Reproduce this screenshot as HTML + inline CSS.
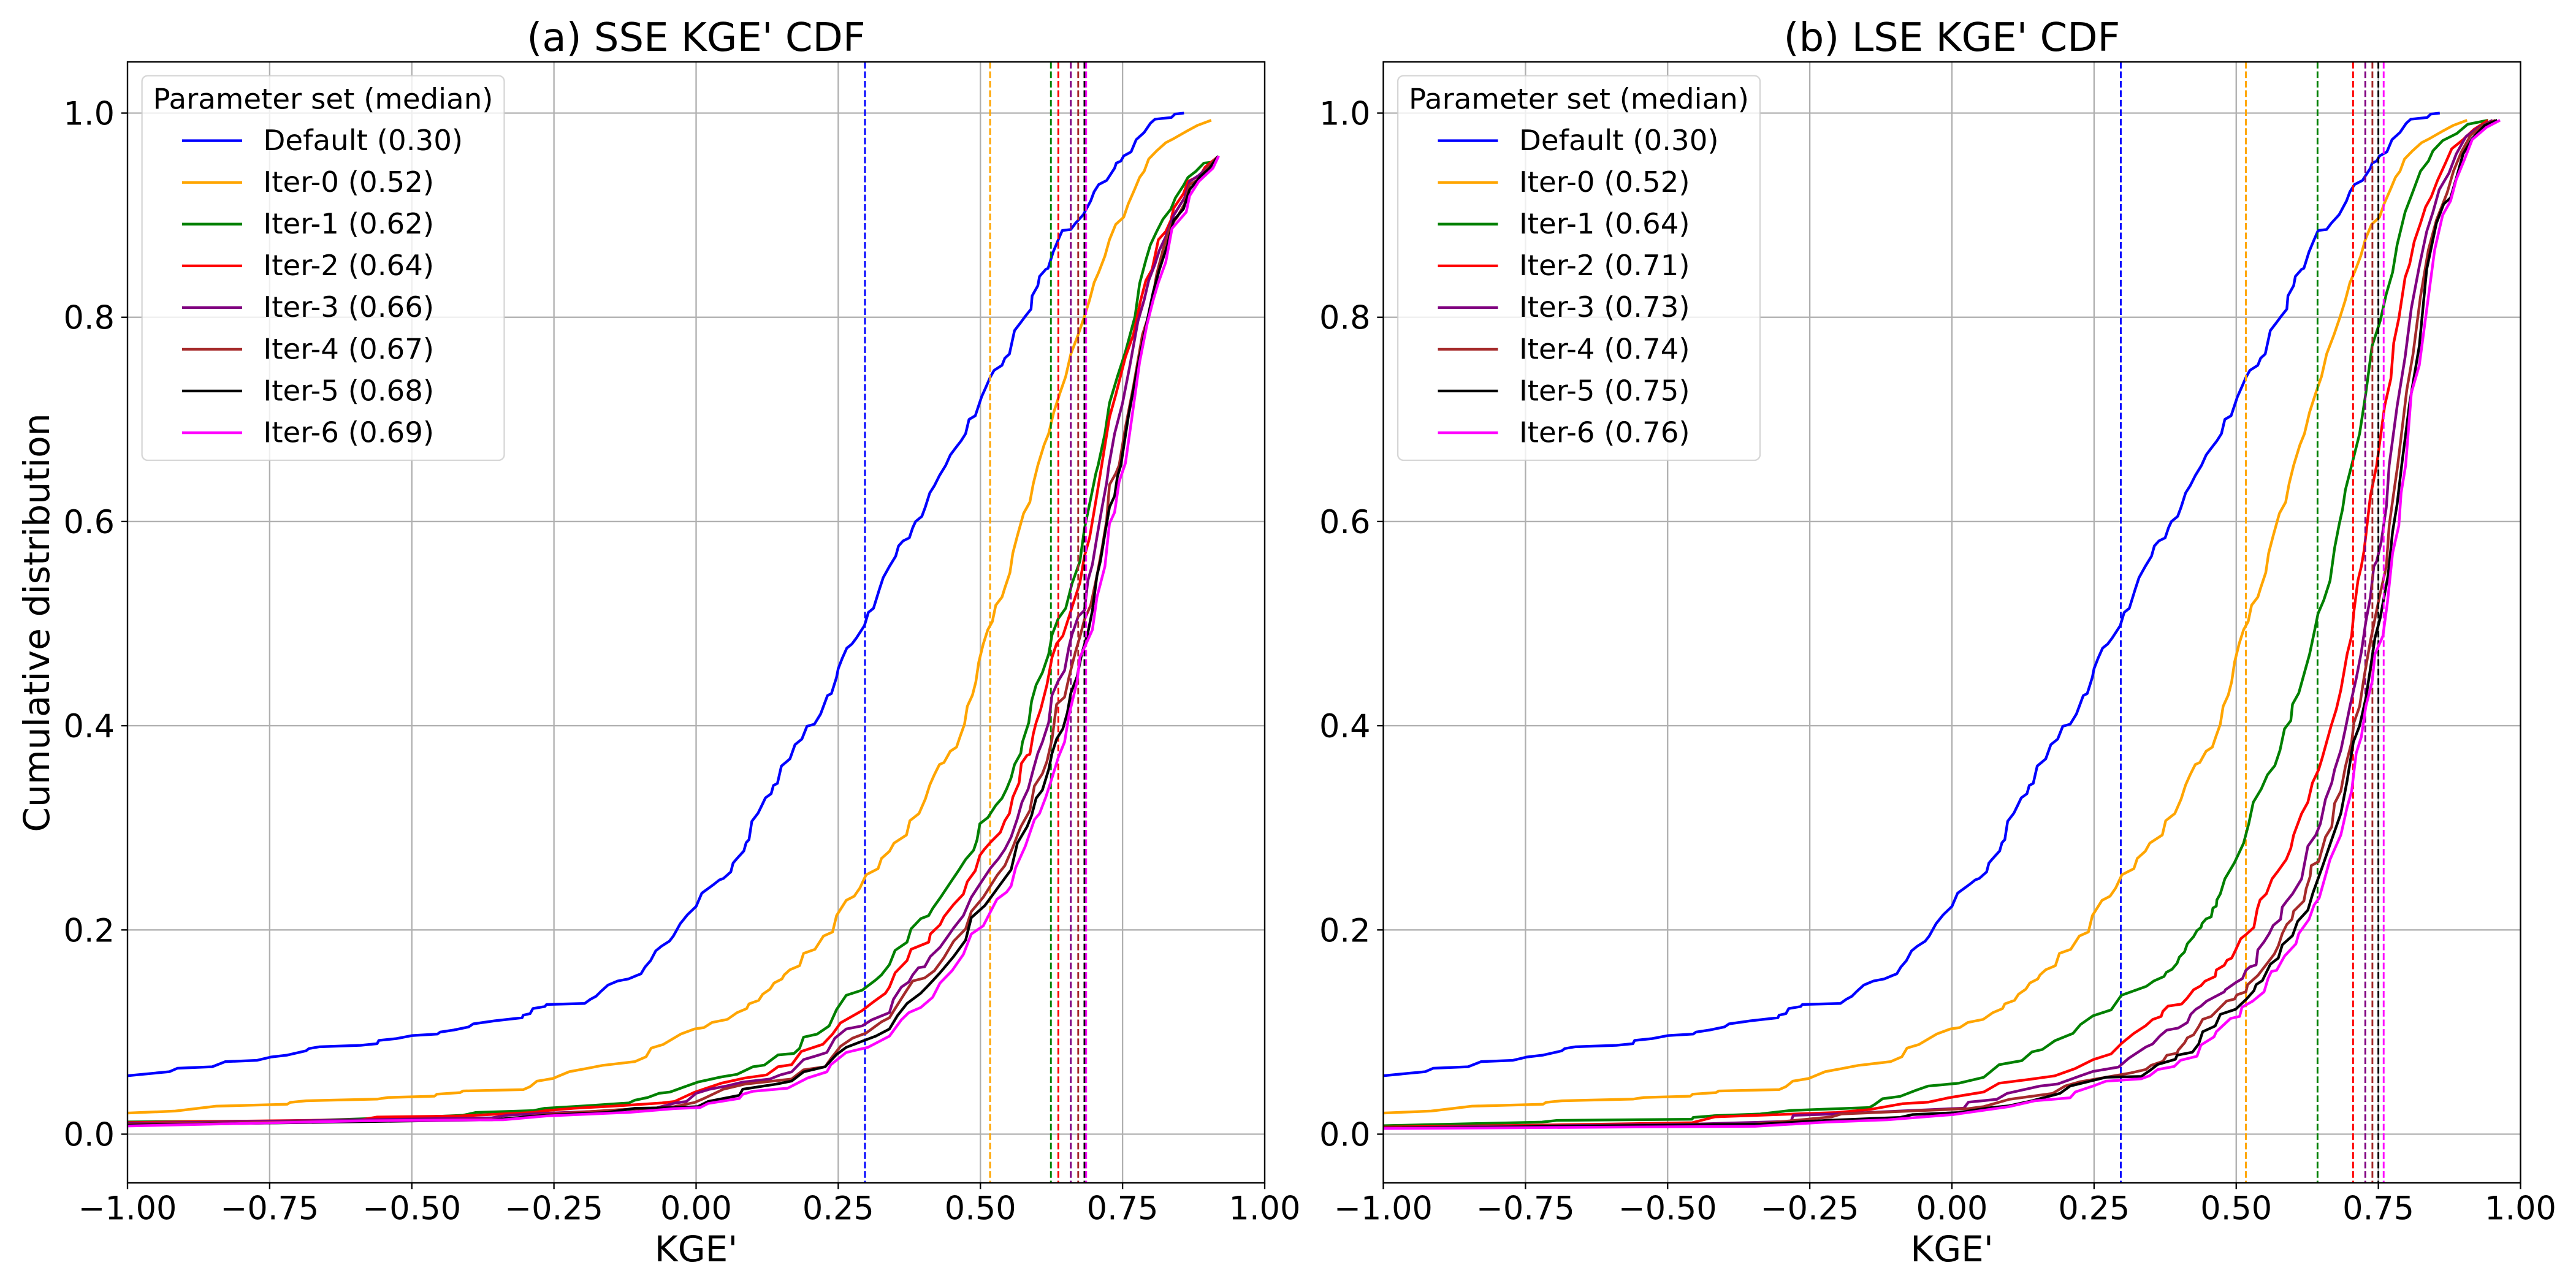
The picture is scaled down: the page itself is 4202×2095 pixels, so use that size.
<!DOCTYPE html>
<html lang="en">
<head>
<meta charset="utf-8">
<title>SSE and LSE KGE' CDF</title>
<style>
html,body{margin:0;padding:0;background:#fff;}
svg{display:block;}
text{font-family:"DejaVu Sans",sans-serif;fill:#000;}
</style>
</head>
<body>
<svg id="figure" xmlns="http://www.w3.org/2000/svg" width="4202" height="2095" viewBox="0 0 4202 2095"></svg>
<script>
// ---- Tick data ----
const xTickValues = [-1, -0.75, -0.5, -0.25, 0, 0.25, 0.5, 0.75, 1];
const xTickLabels = ['\u22121.00', '\u22120.75', '\u22120.50', '\u22120.25', '0.00', '0.25', '0.50', '0.75', '1.00'];
const yTickValues = [0, 0.2, 0.4, 0.6, 0.8, 1];
const yTickLabels = ['0.0', '0.2', '0.4', '0.6', '0.8', '1.0'];
const seriesNames = ['Default', 'Iter-0', 'Iter-1', 'Iter-2', 'Iter-3', 'Iter-4', 'Iter-5', 'Iter-6'];
const seriesColors = ['#0000ff', '#ffa500', '#008000', '#ff0000', '#800080', '#a52a2a', '#000000', '#ff00ff'];

// ---- Median KGE' per parameter set ----
const sseMedians = [0.297, 0.517, 0.624, 0.637, 0.659, 0.672, 0.683, 0.686];
const lseMedians = [0.297, 0.517, 0.643, 0.7055, 0.727, 0.7395, 0.75, 0.7593];

// ---- Default and Iter-0 (shared by both panels) ----
const defaultKge = [-1,-.926,-.912,-.851,-.828,-.772,-.748,-.719,-.686,-.681,-.662,-.59,-.561,-.558,-.527,-.5,-.455,-.45,-.426,-.4,-.392,-.354,-.306,-.304,-.292,-.287,-.266,-.263,-.196,-.186,-.176,-.167,-.155,-.138,-.119,-.104,-.097,-.09,-.08,-.071,-.061,-.047,-.04,-.028,-.015,0,.01,.032,.041,.048,.061,.065,.071,.084,.088,.093,.098,.109,.116,.122,.132,.136,.143,.15,.165,.174,.186,.195,.208,.219,.231,.238,.247,.25,.257,.265,.274,.282,.296,.303,.312,.322,.329,.34,.351,.356,.364,.375,.381,.386,.397,.403,.411,.419,.428,.439,.447,.455,.466,.474,.48,.491,.502,.51,.517,.524,.538,.543,.551,.56,.571,.579,.589,.591,.601,.604,.615,.619,.628,.637,.644,.659,.667,.681,.694,.7,.708,.722,.736,.739,.747,.752,.765,.774,.788,.799,.807,.836,.842,.858];
const defaultCdf = [.0572,.0612,.0646,.066,.071,.0723,.0755,.0774,.0816,.0838,.0856,.087,.0886,.0918,.0936,.0965,.098,.1,.102,.105,.108,.111,.114,.1165,.118,.123,.125,.127,.128,.132,.135,.14,.146,.15,.152,.1555,.157,.1635,.17,.1795,.184,.189,.194,.206,.215,.223,.236,.245,.249,.2504,.2568,.2654,.2694,.2774,.2854,.2884,.3064,.3144,.3224,.3294,.3334,.3415,.3435,.3605,.3675,.3815,.3869,.3995,.4015,.4115,.4295,.4315,.4475,.456,.466,.476,.48,.486,.498,.511,.515,.533,.545,.556,.566,.576,.581,.584,.594,.6,.605,.614,.628,.635,.645,.655,.665,.671,.679,.686,.7,.7036,.722,.732,.741,.748,.753,.76,.764,.787,.795,.801,.808,.821,.831,.84,.847,.848,.864,.876,.885,.886,.892,.9005,.914,.923,.93,.934,.946,.951,.953,.958,.962,.974,.981,.99,.994,.9957,.999,1];
const iter0Kge = [-1,-.916,-.844,-.719,-.714,-.686,-.561,-.542,-.46,-.456,-.415,-.41,-.304,-.292,-.28,-.252,-.223,-.19,-.165,-.108,-.088,-.079,-.058,-.038,-.027,-.003,.014,.028,.055,.072,.089,.093,.11,.117,.13,.137,.151,.155,.165,.182,.189,.209,.224,.24,.247,.264,.278,.288,.299,.32,.326,.34,.348,.37,.376,.392,.403,.411,.419,.428,.436,.447,.458,.464,.472,.477,.486,.492,.497,.505,.513,.521,.527,.538,.543,.552,.557,.565,.576,.587,.593,.601,.612,.62,.629,.64,.65,.659,.672,.683,.692,.7,.708,.719,.727,.738,.752,.76,.771,.78,.788,.796,.81,.826,.84,.862,.882,.906];
const iter0Cdf = [.0207,.0226,.0274,.0293,.0311,.0327,.0343,.0359,.0372,.0391,.0407,.0423,.0436,.0465,.0519,.0545,.0612,.0646,.0673,.071,.0758,.0843,.0878,.0944,.098,.103,.1044,.1094,.1124,.119,.123,.1276,.131,.137,.142,.148,.152,.156,.161,.165,.177,.181,.194,.198,.214,.229,.233,.241,.254,.26,.27,.277,.285,.293,.307,.314,.328,.342,.352,.362,.364,.375,.379,.389,.4014,.419,.43,.443,.462,.48,.494,.502,.518,.526,.535,.55,.569,.586,.608,.619,.637,.655,.675,.686,.707,.726,.742,.764,.783,.801,.817,.834,.844,.86,.876,.891,.898,.911,.925,.937,.943,.955,.963,.971,.975,.982,.988,.993];

// ---- SSE panel ----
const sseIter1Kge = [-1,-.7,-.45,-.41,-.387,-.286,-.267,-.19,-.118,-.108,-.085,-.065,-.046,-.022,.003,.044,.072,.1,.12,.144,.172,.182,.189,.213,.234,.247,.264,.292,.316,.326,.34,.35,.371,.378,.395,.409,.416,.43,.45,.463,.474,.488,.494,.499,.513,.527,.538,.546,.554,.56,.571,.574,.585,.59,.598,.609,.62,.626,.637,.65,.661,.675,.683,.692,.703,.707,.719,.727,.741,.755,.772,.78,.791,.799,.81,.821,.835,.843,.857,.865,.879,.893,.909,.919];
const sseIter1Cdf = [.012,.013,.0175,.0185,.0213,.0231,.0253,.0279,.0306,.0332,.0359,.04,.0412,.046,.051,.056,.0586,.066,.0676,.0776,.079,.084,.095,.098,.106,.122,.136,.141,.151,.156,.166,.18,.188,.201,.211,.214,.221,.232,.2487,.2594,.269,.278,.288,.304,.31,.322,.329,.338,.349,.362,.373,.384,.403,.424,.44,.452,.47,.489,.505,.515,.539,.561,.593,.617,.647,.655,.686,.716,.742,.766,.801,.833,.856,.871,.884,.896,.906,.917,.929,.937,.943,.951,.952,.958];
const sseIter2Kge = [-1,-.589,-.561,-.415,-.286,-.263,-.215,-.146,-.06,-.038,-.003,.045,.086,.124,.144,.168,.185,.223,.24,.254,.292,.313,.333,.34,.35,.371,.378,.409,.412,.429,.436,.453,.47,.477,.491,.499,.507,.518,.535,.543,.551,.557,.568,.572,.582,.587,.593,.598,.606,.617,.626,.634,.645,.656,.664,.675,.683,.692,.703,.711,.727,.738,.755,.769,.782,.791,.802,.813,.826,.835,.84,.857,.865,.887,.895,.917];
const sseIter2Cdf = [.0114,.0141,.0168,.0178,.0213,.0231,.0253,.0274,.0306,.032,.041,.05,.055,.058,.066,.068,.081,.088,.098,.109,.121,.13,.138,.144,.158,.17,.181,.188,.196,.205,.213,.225,.235,.2473,.258,.273,.279,.286,.2955,.307,.314,.33,.344,.363,.371,.372,.392,.403,.416,.44,.467,.4804,.488,.507,.521,.54,.566,.584,.62,.647,.702,.724,.761,.783,.817,.836,.847,.876,.884,.895,.907,.921,.933,.939,.947,.957];
const sseIter3Kge = [-1,-.359,-.33,-.263,-.165,-.069,-.036,-.017,0,.024,.052,.082,.13,.148,.168,.189,.213,.23,.244,.264,.292,.309,.34,.347,.361,.374,.381,.391,.402,.412,.429,.443,.453,.47,.484,.502,.518,.532,.543,.554,.565,.573,.584,.593,.601,.609,.62,.626,.637,.648,.656,.661,.672,.683,.689,.697,.705,.714,.722,.726,.736,.75,.763,.777,.788,.796,.807,.815,.826,.84,.859,.868,.884,.898,.917];
const sseIter3Cdf = [.0106,.016,.0186,.0205,.0226,.0258,.0306,.032,.04,.044,.047,.051,.054,.058,.061,.073,.077,.08,.094,.103,.106,.112,.119,.132,.144,.149,.156,.163,.164,.174,.183,.194,.202,.214,.232,.2473,.2607,.27,.279,.291,.309,.325,.338,.357,.373,.384,.403,.43,.444,.454,.478,.489,.507,.513,.542,.558,.585,.614,.638,.655,.686,.716,.753,.796,.817,.836,.852,.866,.879,.9,.917,.933,.939,.946,.957];
const sseIter4Kge = [-1,-.334,-.263,-.137,-.055,-.038,-.003,.014,.048,.086,.168,.189,.227,.237,.254,.275,.299,.326,.34,.35,.367,.381,.402,.419,.436,.453,.474,.484,.505,.53,.543,.557,.571,.587,.595,.609,.617,.626,.634,.648,.656,.667,.675,.683,.694,.705,.714,.722,.727,.738,.744,.755,.769,.785,.799,.81,.821,.835,.846,.859,.868,.884,.903,.917];
const sseIter4Cdf = [.0098,.0146,.0194,.0239,.026,.027,.031,.035,.044,.049,.054,.063,.066,.074,.086,.094,.099,.11,.114,.123,.138,.15,.153,.16,.173,.189,.201,.218,.232,.254,.263,.281,.301,.317,.341,.353,.365,.387,.421,.428,.448,.472,.487,.504,.518,.547,.574,.601,.636,.647,.655,.692,.732,.783,.807,.842,.866,.89,.898,.911,.93,.935,.949,.957];
const sseIter5Kge = [-1,-.359,-.263,-.156,-.108,-.038,.003,.021,.076,.082,.141,.168,.189,.227,.247,.264,.292,.316,.34,.354,.371,.395,.409,.429,.453,.474,.484,.508,.525,.535,.554,.565,.582,.59,.598,.609,.62,.626,.634,.645,.653,.659,.67,.678,.689,.697,.705,.711,.719,.727,.736,.741,.747,.76,.777,.793,.804,.815,.829,.84,.857,.868,.887,.903,.917];
const sseIter5Cdf = [.0088,.0141,.0186,.0213,.0253,.026,.027,.032,.038,.044,.049,.052,.061,.066,.078,.085,.091,.096,.103,.116,.128,.138,.146,.158,.174,.19,.212,.224,.237,.2446,.259,.285,.301,.312,.329,.337,.357,.373,.387,.397,.413,.432,.448,.47,.491,.513,.547,.561,.588,.614,.625,.644,.655,.702,.753,.796,.825,.847,.871,.895,.906,.925,.938,.946,.957];
const sseIter6Kge = [-1,-.589,-.339,-.263,-.119,-.038,.007,.021,.076,.082,.1,.161,.196,.23,.237,.264,.302,.34,.361,.374,.395,.416,.429,.45,.47,.484,.505,.529,.546,.554,.562,.579,.595,.604,.615,.626,.637,.648,.656,.67,.675,.686,.697,.705,.719,.727,.736,.744,.755,.766,.78,.793,.804,.813,.826,.837,.851,.862,.868,.884,.909,.919];
const sseIter6Cdf = [.008,.013,.0141,.0178,.0213,.025,.026,.03,.035,.039,.042,.045,.055,.061,.068,.08,.085,.096,.112,.119,.124,.134,.148,.16,.176,.196,.204,.23,.237,.243,.261,.282,.308,.314,.33,.349,.369,.384,.411,.443,.467,.4804,.494,.526,.556,.598,.609,.639,.657,.7,.756,.793,.817,.834,.854,.887,.896,.903,.919,.933,.946,.958];

// ---- LSE panel ----
const lseIter1Kge = [-1,-.721,-.694,-.457,-.455,-.417,-.337,-.283,-.145,-.136,-.122,-.091,-.064,-.042,.012,.056,.083,.123,.141,.159,.181,.213,.226,.248,.28,.298,.342,.355,.373,.377,.387,.396,.4,.409,.414,.425,.431,.438,.44,.447,.456,.459,.465,.466,.472,.48,.497,.513,.522,.53,.544,.555,.568,.577,.585,.596,.599,.61,.618,.629,.637,.644,.654,.665,.673,.681,.687,.692,.703,.717,.728,.739,.753,.764,.775,.783,.797,.808,.824,.838,.846,.863,.888,.907,.943];
const lseIter1Cdf = [.0083,.0118,.0135,.0146,.0164,.0181,.0198,.0232,.0261,.029,.0347,.037,.0428,.0471,.0499,.0557,.068,.072,.0806,.0829,.0915,.0987,.1073,.1159,.1217,.136,.1448,.15,.1544,.1584,.1614,.1674,.1734,.1784,.1864,.1934,.1994,.2024,.2064,.2108,.2128,.2214,.2234,.2294,.2353,.25,.266,.285,.304,.325,.338,.352,.361,.376,.397,.405,.421,.432,.448,.47,.491,.51,.523,.542,.574,.597,.612,.631,.655,.686,.726,.772,.796,.823,.844,.871,.903,.919,.943,.953,.963,.973,.98,.989,.993];
const lseIter2Kge = [-1,-.685,-.457,-.417,-.203,-.145,-.087,-.042,-.006,.056,.083,.137,.181,.217,.248,.28,.298,.32,.341,.353,.368,.371,.38,.404,.414,.425,.438,.445,.463,.465,.479,.484,.492,.499,.508,.517,.531,.537,.542,.553,.563,.574,.588,.596,.601,.615,.626,.634,.645,.651,.659,.667,.676,.684,.69,.695,.703,.707,.714,.72,.725,.731,.736,.747,.761,.772,.777,.786,.797,.805,.813,.824,.833,.843,.854,.868,.879,.899,.918,.943];
const lseIter2Cdf = [.0069,.0092,.0112,.0169,.0212,.0241,.0298,.0313,.0356,.0413,.0499,.0537,.0571,.0643,.0729,.0786,.0887,.0987,.1063,.1123,.1153,.1203,.1254,.1274,.1334,.1414,.1454,.1498,.1544,.1608,.1654,.1704,.1724,.1804,.1914,.1954,.2024,.2204,.2294,.2354,.25,.258,.269,.28,.293,.314,.325,.344,.357,.368,.384,.4,.416,.435,.454,.47,.488,.512,.542,.556,.572,.601,.625,.655,.713,.74,.775,.799,.839,.852,.874,.892,.908,.918,.934,.951,.965,.974,.984,.993];
const lseIter3Kge = [-1,-.457,-.283,-.279,-.203,.021,.029,.079,.097,.155,.186,.226,.248,.293,.311,.341,.353,.366,.378,.398,.414,.42,.429,.438,.448,.479,.481,.499,.511,.517,.524,.535,.538,.549,.558,.565,.578,.581,.589,.599,.615,.626,.64,.648,.657,.668,.673,.684,.692,.7,.711,.72,.728,.736,.742,.747,.755,.764,.769,.783,.797,.808,.822,.835,.846,.857,.874,.887,.904,.926,.951];
const lseIter3Cdf = [.0063,.0098,.0126,.0184,.0198,.0255,.0313,.0341,.0399,.0471,.0491,.0571,.0614,.0657,.0743,.0853,.0883,.0963,.1019,.1039,.1093,.1173,.1223,.1254,.1303,.1394,.1414,.1484,.1524,.1604,.1638,.1658,.1804,.1884,.1964,.2044,.2104,.2224,.2284,.2353,.25,.282,.293,.304,.328,.344,.357,.376,.397,.419,.446,.472,.502,.526,.556,.561,.58,.614,.655,.713,.761,.809,.85,.884,.903,.925,.941,.96,.977,.986,.993];
const lseIter4Kge = [-1,-.346,-.212,-.194,.029,.056,.101,.177,.199,.226,.271,.315,.341,.35,.371,.378,.396,.398,.409,.414,.425,.434,.441,.456,.465,.483,.497,.501,.517,.52,.538,.556,.567,.574,.581,.589,.598,.601,.619,.623,.63,.632,.645,.657,.668,.673,.684,.692,.703,.707,.717,.725,.736,.747,.753,.764,.769,.777,.784,.8,.811,.824,.838,.852,.871,.882,.896,.912,.934,.956];
const lseIter4Cdf = [.006,.0098,.0169,.0198,.025,.027,.0341,.0399,.0471,.0514,.0557,.06,.0633,.0673,.0713,.0773,.0793,.0823,.0893,.0943,.0973,.1053,.1124,.1153,.1203,.1303,.1323,.1364,.1394,.1464,.1554,.1684,.1764,.1844,.1964,.2054,.2104,.2184,.2284,.2404,.2524,.263,.267,.291,.301,.324,.336,.36,.384,.403,.419,.448,.483,.513,.529,.556,.596,.628,.655,.729,.764,.82,.866,.895,.922,.943,.962,.978,.988,.993];
const lseIter5Kge = [-1,-.337,-.221,-.091,-.069,.012,.07,.101,.141,.19,.208,.271,.333,.348,.362,.393,.396,.423,.434,.441,.463,.472,.499,.518,.531,.535,.546,.56,.574,.581,.599,.608,.626,.635,.651,.667,.684,.695,.706,.717,.728,.736,.744,.753,.761,.767,.775,.783,.791,.805,.822,.835,.852,.865,.877,.888,.899,.915,.937,.959];
const lseIter5Cdf = [.0057,.0098,.0135,.0164,.0192,.0212,.0261,.0278,.0327,.0399,.0471,.0557,.0565,.0623,.0683,.0733,.0773,.0803,.0883,.1003,.1059,.1173,.1223,.1323,.1404,.1464,.1504,.1664,.1724,.1854,.1944,.2084,.2194,.2364,.261,.287,.314,.346,.384,.4,.427,.456,.486,.505,.529,.547,.59,.617,.655,.716,.772,.847,.892,.911,.917,.938,.96,.975,.988,.993];
const lseIter6Kge = [-1,-.346,-.221,-.113,.003,.101,.146,.208,.217,.248,.271,.333,.348,.362,.391,.402,.431,.438,.461,.465,.49,.506,.51,.529,.549,.556,.562,.571,.585,.605,.61,.628,.637,.646,.665,.684,.695,.703,.711,.72,.728,.739,.744,.758,.766,.775,.786,.79,.798,.808,.822,.838,.849,.863,.877,.887,.901,.915,.94,.964];
const lseIter6Cdf = [.0055,.0077,.0118,.0141,.0192,.027,.0327,.0356,.0413,.0471,.0519,.0542,.0573,.0633,.0663,.0723,.0763,.0873,.0953,.1003,.1133,.1153,.1243,.1303,.1394,.1524,.1594,.1604,.1744,.1864,.1964,.2104,.2244,.2314,.269,.293,.32,.336,.373,.389,.419,.443,.47,.488,.521,.569,.596,.628,.655,.726,.753,.82,.866,.9,.914,.935,.954,.974,.986,.993];

const svg = document.getElementById('figure');
const NS = 'http://www.w3.org/2000/svg';
const SPINE = 2.33;
const axTop = 101, axBottom = 1930, axWidth = 1855;
const yZeroPx = 1850.5, yUnitPx = 1666;

function mk(parent, tag, attrs, txt) {
  const el = document.createElementNS(NS, tag);
  for (const k in attrs) el.setAttribute(k, attrs[k]);
  if (txt !== undefined) el.textContent = txt;
  parent.appendChild(el);
  return el;
}

function drawPanel(cfg) {
  const axLeft = cfg.left;
  const axRight = axLeft + axWidth;
  const xScale = v => axLeft + (v + 1) / 2 * axWidth;
  const yScale = v => yZeroPx - v * yUnitPx;
  const offset = axLeft - 208;

  const panel = mk(svg, 'g', {});
  
  

  const defs = mk(panel, 'defs', {});
  const clip = mk(defs, 'clipPath', { id: cfg.id + '-clip' });
  mk(clip, 'rect', { x: axLeft, y: axTop, width: axWidth, height: axBottom - axTop });

  // grid
  const grid = mk(panel, 'g', { stroke: '#b0b0b0', 'stroke-width': SPINE, fill: 'none' });
  
  
  xTickValues.forEach(v => {
    const l = mk(grid, 'line', { x1: xScale(v), x2: xScale(v), y1: axTop, y2: axBottom });
    
    
  });
  yTickValues.forEach(v => {
    const l = mk(grid, 'line', { x1: axLeft, x2: axRight, y1: yScale(v), y2: yScale(v) });
    
    
  });

  // series: each curve followed by its median line
  const plot = mk(panel, 'g', { 'clip-path': 'url(#' + cfg.id + '-clip)', fill: 'none' });
  
  
  cfg.series.forEach((s, i) => {
    const pts = s.kge.map((k, j) => xScale(k).toFixed(2) + ',' + yScale(s.cdf[j]).toFixed(2)).join(' ');
    const line = mk(plot, 'polyline', { points: pts, stroke: seriesColors[i], 'stroke-width': 4.38, 'stroke-linejoin': 'round', 'stroke-linecap': 'butt' });
    
    
    const mx = xScale(cfg.medians[i]);
    const med = mk(plot, 'line', { x1: mx, x2: mx, y1: axTop, y2: axBottom, stroke: seriesColors[i], 'stroke-width': 2.92, 'stroke-dasharray': '10.8 4.67' });
    
    
  });

  // spines
  const frame = mk(panel, 'rect', { x: axLeft, y: axTop, width: axWidth, height: axBottom - axTop, fill: 'none', stroke: '#000', 'stroke-width': SPINE });
  
  

  // x ticks
  xTickValues.forEach((v, i) => {
    const t = mk(panel, 'line', { x1: xScale(v), x2: xScale(v), y1: axBottom, y2: axBottom + 10.2, stroke: '#000', 'stroke-width': SPINE });
    
    
    const lb = mk(panel, 'text', { x: xScale(v), y: 1989.5, 'font-size': 52.5, 'text-anchor': 'middle' }, xTickLabels[i]);
    
    
  });
  // y ticks
  yTickValues.forEach((v, i) => {
    const t = mk(panel, 'line', { x1: axLeft - 10.2, x2: axLeft, y1: yScale(v), y2: yScale(v), stroke: '#000', 'stroke-width': SPINE });
    
    
    const lb = mk(panel, 'text', { x: axLeft - 21, y: yScale(v) + 19, 'font-size': 52.5, 'text-anchor': 'end' }, yTickLabels[i]);
    
    
  });

  // titles
  const title = mk(panel, 'text', { x: axLeft + axWidth / 2, y: 83, 'font-size': 64, 'text-anchor': 'middle' }, cfg.title);
  
  
  const xl = mk(panel, 'text', { x: axLeft + axWidth / 2, y: 2058, 'font-size': 58, 'text-anchor': 'middle' }, "KGE'");
  
  
  if (cfg.ylabel) {
    const yl = mk(panel, 'text', { x: 0, y: 0, 'font-size': 58.3, 'text-anchor': 'middle', transform: 'translate(80 1016) rotate(-90)' }, cfg.ylabel);
    
    
  }

  // legend
  const legend = mk(panel, 'g', {});
  
  
  const box = mk(legend, 'rect', { x: 231.6 + offset, y: 123.5, width: 590.9, height: 627.5, rx: 9.3, ry: 9.3, fill: 'rgba(255,255,255,0.8)', stroke: 'rgba(204,204,204,0.8)', 'stroke-width': SPINE });
  
  
  const lt = mk(legend, 'text', { x: 527 + offset, y: 177.5, 'font-size': 46.67, 'text-anchor': 'middle' }, 'Parameter set (median)');
  
  
  seriesNames.forEach((n, i) => {
    const yy = 229.6 + i * 68.06;
    const h = mk(legend, 'line', { x1: 297 + offset, x2: 395 + offset, y1: yy, y2: yy, stroke: seriesColors[i], 'stroke-width': 4.38 });
    
    
    const e = mk(legend, 'text', { x: 429.5 + offset, y: 245 + i * 68.06, 'font-size': 46.67 }, n + ' (' + cfg.medians[i].toFixed(2) + ')');
    
    
  });
}

drawPanel({
  id: 'sse', left: 208, title: "(a) SSE KGE' CDF", ylabel: 'Cumulative distribution', medians: sseMedians,
  series: [
    { kge: defaultKge, cdf: defaultCdf }, { kge: iter0Kge, cdf: iter0Cdf },
    { kge: sseIter1Kge, cdf: sseIter1Cdf }, { kge: sseIter2Kge, cdf: sseIter2Cdf },
    { kge: sseIter3Kge, cdf: sseIter3Cdf }, { kge: sseIter4Kge, cdf: sseIter4Cdf },
    { kge: sseIter5Kge, cdf: sseIter5Cdf }, { kge: sseIter6Kge, cdf: sseIter6Cdf }
  ]
});
drawPanel({
  id: 'lse', left: 2256.5, title: "(b) LSE KGE' CDF", ylabel: '', medians: lseMedians,
  series: [
    { kge: defaultKge, cdf: defaultCdf }, { kge: iter0Kge, cdf: iter0Cdf },
    { kge: lseIter1Kge, cdf: lseIter1Cdf }, { kge: lseIter2Kge, cdf: lseIter2Cdf },
    { kge: lseIter3Kge, cdf: lseIter3Cdf }, { kge: lseIter4Kge, cdf: lseIter4Cdf },
    { kge: lseIter5Kge, cdf: lseIter5Cdf }, { kge: lseIter6Kge, cdf: lseIter6Cdf }
  ]
});
</script>
</body>
</html>
